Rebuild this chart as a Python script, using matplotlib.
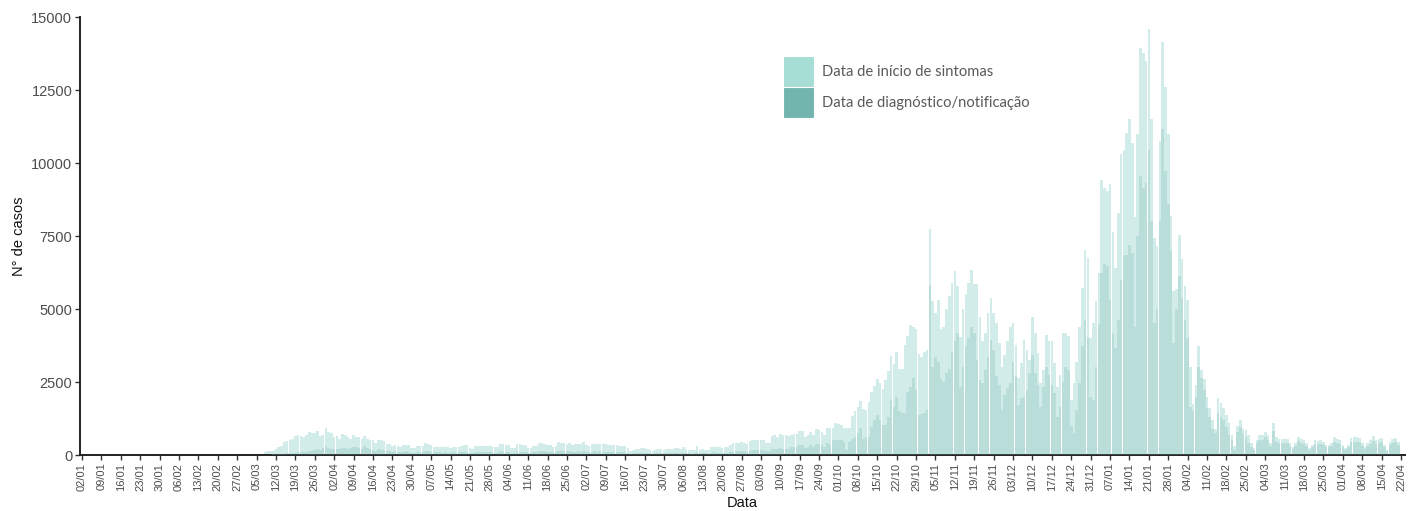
import numpy as np
import pandas as pd
import matplotlib
matplotlib.use("Agg")
import matplotlib.pyplot as plt
from matplotlib.patches import Patch

# ---------------- data ----------------
axis_start = "2020-01-02"
axis_end = "2021-04-22"
series_start = "2020-03-05"

# daily counts from 05/03/2020
sintomas = [
    0, 0, 30, 110, 120, 125, 140,
    200, 270, 300, 430, 470, 500, 560,
    640, 700, 650, 600, 700, 780, 740,
    750, 830, 660, 700, 910, 780, 740,
    610, 660, 550, 720, 700, 630, 550,
    700, 610, 600, 560, 660, 560, 520,
    500, 400, 510, 500, 480, 380, 370,
    320, 330, 310, 290, 340, 350, 340,
    230, 240, 310, 320, 300, 400, 390,
    340, 290, 280, 290, 260, 270, 260,
    250, 270, 260, 280, 310, 340, 350,
    230, 220, 310, 320, 310, 300, 310,
    320, 300, 270, 260, 380, 370, 340,
    350, 230, 240, 380, 370, 340, 330,
    230, 250, 310, 300, 420, 420, 380,
    350, 340, 290, 300, 430, 410, 400,
    390, 400, 340, 360, 380, 370, 430,
    330, 310, 360, 380, 370, 380, 370,
    360, 340, 330, 330, 340, 320, 310,
    300, 230, 150, 180, 210, 220, 240,
    250, 200, 170, 150, 180, 195, 190,
    185, 200, 210, 215, 240, 250, 220,
    260, 200, 170, 160, 180, 310, 170,
    220, 170, 160, 280, 290, 280, 260,
    250, 260, 270, 340, 400, 420, 420,
    430, 410, 380, 490, 500, 510, 520,
    500, 510, 420, 420, 650, 680, 630,
    720, 680, 670, 660, 680, 710, 720,
    820, 810, 630, 680, 800, 680, 880,
    850, 800, 680, 935, 915, 915, 1085,
    1050, 1030, 915, 915, 940, 1340, 1510,
    1660, 1865, 1570, 1545, 1830, 2170, 2370,
    2600, 2460, 2250, 2580, 2890, 3400, 3120,
    3540, 2940, 2940, 3770, 4080, 4460, 4400,
    4310, 3460, 3350, 3540, 3600, 7740, 5260,
    4880, 5320, 4300, 4400, 5000, 5430, 5900,
    6290, 5800, 4050, 5000, 5500, 5900, 6320,
    5870, 5850, 4740, 3890, 4180, 4860, 5380,
    4860, 4520, 3830, 3000, 3430, 3890, 4400,
    4520, 3770, 2630, 3140, 3940, 3600, 3260,
    4740, 4170, 3490, 2460, 2920, 4120, 3890,
    3890, 3140, 2340, 2740, 4180, 4180, 4060,
    1890, 2460, 3200, 4400, 5720, 7010, 6750,
    4000, 4520, 5260, 6240, 9430, 9150, 9030,
    9290, 7640, 6400, 8290, 10320, 10460, 11030,
    11490, 10690, 8150, 11000, 13950, 13780, 13490,
    14600, 11500, 7430, 7150, 10750, 14150, 12600,
    11000, 8200, 5600, 5700, 7550, 6700, 5800,
    5300, 3000, 1750, 2400, 3750, 2900, 2600,
    2000, 1600, 1200, 900, 1950, 1770, 1600,
    1370, 1100, 680, 300, 1000, 1200, 900,
    850, 680, 420, 240, 520, 690, 680,
    780, 700, 400, 1090, 600, 540, 540,
    540, 540, 400, 265, 400, 630, 550,
    520, 400, 230, 345, 510, 490, 510,
    460, 345, 345, 400, 605, 540, 510,
    345, 230, 345, 570, 600, 605, 570,
    400, 290, 400, 510, 650, 510, 540,
    570, 345, 170, 460, 540, 570, 460,
]

diagnostico = [
    0, 0, 0, 5, 10, 15, 20,
    25, 30, 40, 50, 55, 60, 70,
    80, 90, 95, 100, 110, 120, 150,
    170, 200, 180, 230, 320, 250, 220,
    200, 210, 190, 240, 230, 210, 230,
    280, 260, 240, 220, 300, 250, 200,
    180, 150, 190, 170, 160, 130, 120,
    110, 120, 100, 90, 110, 120, 105,
    80, 85, 100, 110, 100, 130, 120,
    115, 95, 90, 100, 85, 90, 85,
    80, 90, 85, 95, 100, 110, 115,
    75, 70, 100, 105, 100, 95, 100,
    105, 95, 85, 85, 120, 115, 110,
    110, 75, 80, 120, 115, 110, 105,
    75, 80, 100, 95, 130, 130, 120,
    110, 105, 90, 95, 135, 130, 125,
    120, 125, 105, 110, 120, 115, 135,
    105, 95, 110, 120, 115, 120, 115,
    110, 105, 100, 100, 105, 100, 95,
    90, 70, 50, 55, 65, 70, 75,
    80, 65, 55, 50, 55, 60, 60,
    60, 65, 65, 70, 75, 80, 70,
    80, 65, 55, 50, 55, 95, 55,
    70, 55, 50, 85, 90, 85, 80,
    80, 80, 85, 105, 110, 120, 120,
    125, 120, 110, 150, 160, 165, 170,
    160, 165, 130, 130, 200, 220, 200,
    230, 220, 215, 210, 260, 280, 290,
    340, 330, 250, 270, 330, 280, 380,
    360, 330, 280, 400, 340, 500, 515,
    515, 500, 450, 170, 450, 550, 630,
    770, 915, 540, 600, 630, 960, 1200,
    1370, 1200, 1030, 1040, 1315, 1890, 1640,
    2000, 1490, 1450, 1430, 2170, 2340, 2630,
    2230, 1370, 1410, 1450, 1545, 5830, 3030,
    3370, 3200, 2600, 2500, 2800, 2950, 3530,
    3900, 4180, 2340, 3030, 3720, 4000, 4400,
    4170, 3260, 2570, 2460, 2900, 3370, 3940,
    3600, 2690, 2400, 1540, 2060, 2300, 2460,
    3200, 2690, 1710, 1940, 2000, 2230, 2800,
    3430, 2800, 2400, 1650, 2340, 3030, 2740,
    2400, 2110, 1310, 1650, 2500, 3030, 2920,
    1000, 745, 1540, 2460, 3720, 4640, 4000,
    2000, 1890, 3030, 4500, 6240, 6530, 6460,
    5320, 4180, 3670, 4640, 6000, 6860, 6860,
    7200, 6920, 4400, 7500, 9550, 9150, 9320,
    10460, 8000, 4520, 5000, 8000, 11150, 9720,
    8580, 7000, 3830, 5000, 6120, 5380, 4640,
    4000, 1650, 1500, 2000, 3030, 2630, 2230,
    1600, 1300, 900, 740, 1430, 1300, 1200,
    970, 700, 510, 170, 800, 970, 740,
    630, 400, 290, 170, 400, 510, 510,
    600, 520, 300, 820, 450, 400, 400,
    400, 400, 300, 200, 300, 470, 410,
    390, 300, 170, 260, 380, 370, 380,
    345, 260, 260, 300, 450, 400, 380,
    260, 170, 260, 430, 450, 450, 430,
    300, 220, 300, 380, 490, 380, 400,
    430, 260, 130, 345, 400, 430, 345,
]

series_labels = ["Data de início de sintomas", "Data de diagnóstico/notificação"]
series_colors = ["#a6ddd4", "#72b5ae"]
y_ticks = [0, 2500, 5000, 7500, 10000, 12500, 15000]

# ---------------- figure ----------------
W, H = 1419, 511
fig = plt.figure(figsize=(W / 100, H / 100), dpi=100)
ax_left, ax_right, ax_top, ax_bottom = 80, 1405, 17, 455
ax = fig.add_axes([ax_left / W, 1 - ax_bottom / H,
                   (ax_right - ax_left) / W, (ax_bottom - ax_top) / H])

t0 = pd.Timestamp(axis_start)
s0 = (pd.Timestamp(series_start) - t0).days
xs = s0 + np.arange(len(sintomas))
xd = s0 + np.arange(len(diagnostico))

ax.bar(xs, sintomas, width=0.94, color=series_colors[0], alpha=0.5,
       linewidth=0, zorder=2)
ax.bar(xd, diagnostico, width=0.94, color=series_colors[1], alpha=0.25,
       linewidth=0, zorder=3)

tick_dates = pd.date_range(axis_start, axis_end, freq="7D")
tick_pos = [(d - t0).days for d in tick_dates]
tick_labels = [d.strftime("%d/%m") for d in tick_dates]

px_per_day = (1401 - 82) / tick_pos[-1]
ax.set_xlim(-(82 - ax_left) / px_per_day,
            tick_pos[-1] + (ax_right - 1401) / px_per_day)
ax.set_ylim(0, 15000)

ax.set_xticks(tick_pos)
ax.set_xticklabels(tick_labels, rotation=90, fontsize=8,
                   family="Liberation Sans", color="#4d4d4d")
ax.set_yticks(y_ticks)
ax.set_yticklabels([str(v) for v in y_ticks], fontsize=10.5,
                   family="Liberation Sans", color="#4d4d4d")

for side in ["top", "right"]:
    ax.spines[side].set_visible(False)
for side in ["left", "bottom"]:
    ax.spines[side].set_linewidth(1.4)
    ax.spines[side].set_color("#222222")
ax.tick_params(axis="both", length=3.5, width=1.0, color="#333333")
ax.tick_params(axis="x", pad=2)
ax.tick_params(axis="y", pad=2)

ax.set_xlabel("Data", fontsize=10.5, family="Liberation Sans",
              color="#111111", labelpad=4)
ax.set_ylabel("N° de casos", fontsize=10.5, family="Liberation Sans",
              color="#111111", labelpad=4)

handles = [Patch(facecolor=c, edgecolor="white", linewidth=0.8) for c in series_colors]
leg = ax.legend(handles, series_labels, loc="upper left",
                bbox_to_anchor=((783 - ax_left) / (ax_right - ax_left),
                                (ax_bottom - 56) / (ax_bottom - ax_top)),
                frameon=False, borderpad=0, borderaxespad=0,
                handlelength=2.1, handleheight=2.85, labelspacing=0,
                handletextpad=0.54,
                prop={"family": "Lato", "size": 10.6})
for t in leg.get_texts():
    t.set_color("#595959")

fig.savefig("out.png", dpi=100)
